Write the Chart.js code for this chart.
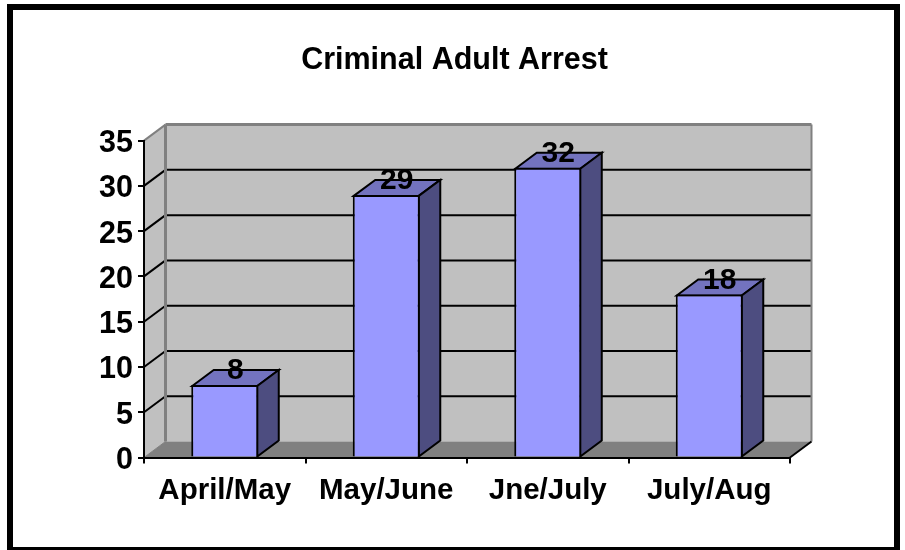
<!DOCTYPE html>
<html>
<head>
<meta charset="utf-8">
<style>html,body{margin:0;padding:0;background:#fff}#w{width:905px;height:550px;position:relative}canvas{display:block}</style>
<script src="https://cdn.jsdelivr.net/npm/chart.js@4"></script>
</head>
<body>
<div id="w"><canvas id="c" width="905" height="550"></canvas></div>
<script>
const categories = ['April/May', 'May/June', 'Jne/July', 'July/Aug'];
const arrests = [8, 29, 32, 18];
const chartTitle = 'Criminal Adult Arrest';
const axisMin = 0, axisMax = 35, axisStep = 5;

const FONT = 'bold 30px "Liberation Sans", Arial, sans-serif';
const DX = 21.5, DY = -16;

function poly(ctx, pts, fill, stroke, lw) {
  ctx.beginPath();
  pts.forEach((p, i) => i ? ctx.lineTo(p[0], p[1]) : ctx.moveTo(p[0], p[1]));
  ctx.closePath();
  if (fill) { ctx.fillStyle = fill; ctx.fill(); }
  if (stroke) { ctx.strokeStyle = stroke; ctx.lineWidth = lw; ctx.lineJoin = 'miter'; ctx.stroke(); }
}
function line(ctx, a, b, color, lw) {
  ctx.beginPath(); ctx.moveTo(a[0], a[1]); ctx.lineTo(b[0], b[1]);
  ctx.strokeStyle = color; ctx.lineWidth = lw; ctx.stroke();
}

const frame3d = {
  id: 'frame3d',
  beforeDraw(chart) {
    const { ctx, chartArea: a, scales: { y } } = chart;
    const L = a.left, R = a.right, T = a.top, B = a.bottom;
    ctx.save();
    ctx.strokeStyle = '#000'; ctx.lineWidth = 6;
    ctx.strokeRect(10, 7, 887, 543);
    poly(ctx, [[L + DX, T + DY], [R + DX, T + DY], [R + DX, B + DY], [L + DX, B + DY]], '#c0c0c0');
    poly(ctx, [[L, T], [L + DX, T + DY], [L + DX, B + DY], [L, B]], '#c0c0c0');
    poly(ctx, [[L, B], [L + DX, B + DY], [R + DX, B + DY], [R, B]], '#808080');
    y.ticks.forEach(t => {
      if (t.value === axisMin || t.value === axisMax) return;
      const py = y.getPixelForValue(t.value);
      line(ctx, [L, py], [L + DX, py + DY], '#000', 2);
      line(ctx, [L + DX, py + DY], [R + DX, py + DY], '#000', 2);
    });
    line(ctx, [L, T], [L + DX, T + DY], '#808080', 2);
    line(ctx, [L + DX, T + DY], [R + DX, T + DY], '#808080', 3);
    line(ctx, [L + DX, T + DY], [L + DX, B + DY], '#808080', 3);
    line(ctx, [R + DX, T + DY], [R + DX, B + DY], '#808080', 2);
    line(ctx, [L, B], [L + DX, B + DY], '#808080', 1);
    line(ctx, [R, B], [R + DX, B + DY], '#000', 2);
    ctx.restore();
  },
  beforeDatasetsDraw(chart) {
    const { ctx } = chart;
    ctx.save();
    chart.getDatasetMeta(0).data.forEach(bar => {
      const p = bar.getProps(['x', 'y', 'base', 'width'], true);
      const l = p.x - p.width / 2 + 1, r = p.x + p.width / 2 - 1, t = p.y + 1, b = p.base;
      poly(ctx, [[l, t], [l + DX, t + DY], [r + DX, t + DY], [r, t]], '#7373bf', '#000', 2);
      poly(ctx, [[r, t], [r + DX, t + DY], [r + DX, b + DY], [r, b]], '#4d4d80', '#000', 2);
    });
    ctx.restore();
  },
  afterDatasetsDraw(chart) {
    const { ctx } = chart;
    ctx.save();
    ctx.font = FONT; ctx.fillStyle = '#000';
    ctx.textAlign = 'center'; ctx.textBaseline = 'middle';
    chart.getDatasetMeta(0).data.forEach((bar, i) => {
      const p = bar.getProps(['x', 'y'], true);
      ctx.fillText(String(arrests[i]), p.x + 10.5, p.y - 14);
    });
    ctx.restore();
  }
};

Chart.defaults.font.family = '"Liberation Sans", Arial, sans-serif';
new Chart(document.getElementById('c'), {
  type: 'bar',
  data: {
    labels: categories,
    datasets: [{
      data: arrests,
      backgroundColor: '#9999ff',
      borderColor: '#000',
      borderWidth: 2,
      borderSkipped: 'bottom',
      barPercentage: 0.415,
      categoryPercentage: 1
    }]
  },
  plugins: [frame3d],
  options: {
    responsive: false,
    animation: false,
    layout: { padding: { left: 4, right: 0, top: 0, bottom: 0 } },
    plugins: {
      legend: { display: false },
      tooltip: { enabled: false },
      title: {
        display: true, text: chartTitle, color: '#000',
        font: { size: 30.5, weight: 'bold', lineHeight: 1.2 },
        padding: { top: 42, bottom: 62 }
      }
    },
    scales: {
      x: {
        grid: { offset: true, drawOnChartArea: false, drawTicks: true, tickLength: 6, color: '#000', lineWidth: 2, z: 1 },
        border: { color: '#000', width: 2, z: 1 },
        ticks: { color: '#000', padding: 10, maxRotation: 0, font: { size: 29.5, weight: 'bold' } },
        afterFit(s) { s.height = 92.5; }
      },
      y: {
        min: axisMin, max: axisMax,
        grid: { drawOnChartArea: false, tickLength: 6, color: '#000', lineWidth: 2 },
        border: { color: '#000', width: 2 },
        ticks: { stepSize: axisStep, color: '#000', padding: 5, font: { size: 30.5, weight: 'bold' } },
        afterFit(s) {
          s.width = 140;
          // nudge the tick labels down so the digits sit centred on their ticks
          const base = Object.getPrototypeOf(s).drawLabels;
          s.drawLabels = function (area) {
            this.ctx.save(); this.ctx.translate(0, 3);
            base.call(this, area);
            this.ctx.restore();
          };
        }
      },
      spacer: {
        position: 'right', display: true,
        grid: { display: false }, border: { display: false }, ticks: { display: false },
        afterFit(s) { s.width = 115; }
      }
    }
  }
});
</script>
</body>
</html>
